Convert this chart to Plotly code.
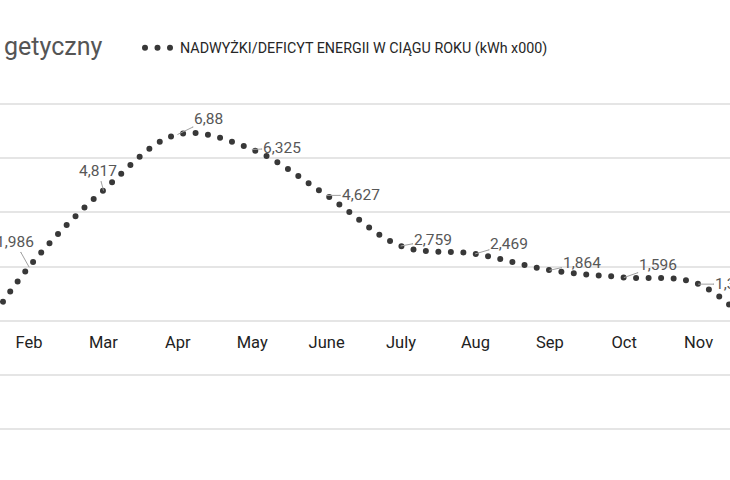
import plotly.graph_objects as go

# ---- data ----
months = ["Jan", "Feb", "Mar", "Apr", "May", "June", "July", "Aug", "Sep", "Oct", "Nov", "Dec"]
values = [-2.0, 1.986, 4.817, 6.88, 6.325, 4.627, 2.759, 2.469, 1.864, 1.596, 1.35, -1.0]
labelled = ["Feb", "Mar", "Apr", "May", "June", "July", "Aug", "Sep", "Oct", "Nov"]
series_name = "NADWYŻKI/DEFICYT ENERGII W CIĄGU ROKU (kWh x000)"
title_text = "getyczny"
grid_vals = [-4, -2, 0, 2, 4, 6, 8]

# ---- styling (label offsets in px) ----
label_offsets = {
    "Feb": (-14, -25), "Mar": (-5, -19), "Apr": (31, -15), "May": (30, -1),
    "June": (34, 0), "July": (32, -6), "Aug": (34, -10), "Sep": (32, -7),
    "Oct": (34, -12), "Nov": (31, 0),
}

FONT = "Roboto, 'Noto Sans', sans-serif"
LINE_COLOR = "#383838"

fig = go.Figure()
fig.add_trace(go.Scatter(
    x=months, y=values, mode="lines", name=series_name,
    line=dict(color=LINE_COLOR, width=6, dash="0px,12.5px", shape="spline", smoothing=1.0),
    hoverinfo="skip",
))

for m, v in zip(months, values):
    if m not in labelled:
        continue
    dx, dy = label_offsets[m]
    fig.add_annotation(
        x=m, y=v, xref="x", yref="y",
        text=str(v).replace(".", ","),
        showarrow=True, arrowhead=0, arrowwidth=1, arrowcolor="#a0a0a0",
        ax=dx, ay=dy, xanchor="center", yanchor="middle",
        font=dict(family=FONT, size=15.5, color="#575757"),
    )

fig.add_annotation(
    x=104 / 730, y=1 - 47 / 480, xref="paper", yref="paper",
    xanchor="right", yanchor="middle", showarrow=False,
    text=title_text, font=dict(family=FONT, size=25, color="#555555"),
)

fig.update_layout(
    width=730, height=480, autosize=False,
    margin=dict(l=0, r=0, t=0, b=0),
    paper_bgcolor="white", plot_bgcolor="white",
    showlegend=True,
    legend=dict(
        orientation="h", x=140 / 730, y=1 - 48 / 480, xanchor="left", yanchor="middle",
        font=dict(family=FONT, size=14.3, color="#262626"), bgcolor="rgba(0,0,0,0)",
    ),
    xaxis=dict(
        type="category", range=[0.61, 10.422],
        anchor="free", position=(480 - 330) / 480,
        showgrid=False, zeroline=False, showline=False, ticks="",
        tickfont=dict(family=FONT, size=16.5, color="#222222"),
        fixedrange=True,
    ),
    yaxis=dict(
        range=[-5.88, 11.84], tickvals=grid_vals, showticklabels=False,
        showgrid=True, gridcolor="#e5e5e5", gridwidth=1.5, zeroline=False,
        fixedrange=True,
    ),
)

fig.write_html(
    "out.html",
    post_script="var s=document.createElement('style');"
                "s.innerHTML='svg path{stroke-linecap:round !important;}';"
                "document.head.appendChild(s);",
)
